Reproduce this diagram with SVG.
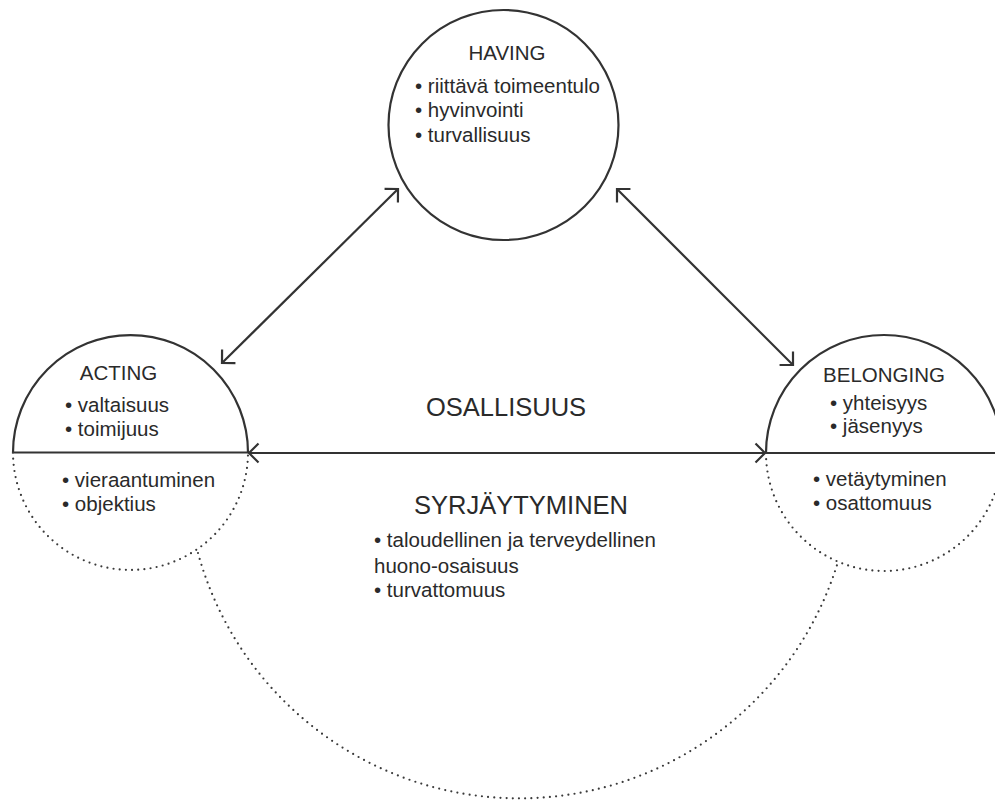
<svg xmlns="http://www.w3.org/2000/svg" width="995" height="801" viewBox="0 0 995 801">
<defs>
<style>
.t{font-family:"Liberation Sans",Arial,sans-serif;font-size:20.5px;fill:#2a2a2a}
.big{font-size:25.5px}
.solid{fill:none;stroke:#333;stroke-width:2.2}
.dot{fill:none;stroke:#3a3a3a;stroke-width:2.2;stroke-linecap:round;stroke-dasharray:0 6.2}
.arr{fill:none;stroke:#333;stroke-width:2.2;marker-start:url(#ah);marker-end:url(#ah)}
</style>
<marker id="ah" markerUnits="userSpaceOnUse" markerWidth="26" markerHeight="26" viewBox="-13 -13 26 26" refX="0" refY="0" orient="auto-start-reverse">
<path d="M-9.5 -9.5 L0 0 L-9.5 9.5" fill="none" stroke="#333" stroke-width="2.2"/>
</marker>
</defs>
<rect width="995" height="801" fill="#fff"/>

<g id="having">
<circle class="solid" cx="503.5" cy="125" r="115"/>
<text class="t" x="507" y="60" text-anchor="middle">HAVING</text>
<text class="t" x="415" y="93">• riittävä toimeentulo</text>
<text class="t" x="415" y="117">• hyvinvointi</text>
<text class="t" x="415" y="142">• turvallisuus</text>
</g>

<g id="acting">
<path class="solid" d="M13 452.5 A117.5 117.5 0 0 1 248 452.5 Z"/>
<path class="dot" d="M13 452.5 A117.5 117.5 0 0 0 248 452.5"/>
<text class="t" x="118.5" y="380" text-anchor="middle">ACTING</text>
<text class="t" x="65" y="412">• valtaisuus</text>
<text class="t" x="65" y="436">• toimijuus</text>
<text class="t" x="62" y="487">• vieraantuminen</text>
<text class="t" x="62" y="511">• objektius</text>
</g>

<g id="belonging">
<path class="solid" d="M766 453 A118 118 0 0 1 1002 453 Z"/>
<path class="dot" d="M766 453 A118 118 0 0 0 1002 453"/>
<text class="t" x="884" y="382" text-anchor="middle">BELONGING</text>
<text class="t" x="830" y="410">• yhteisyys</text>
<text class="t" x="830" y="433">• jäsenyys</text>
<text class="t" x="813" y="486">• vetäytyminen</text>
<text class="t" x="813" y="510">• osattomuus</text>
</g>

<g id="osallisuus">
<text class="t big" x="506" y="416" text-anchor="middle">OSALLISUUS</text>
</g>

<g id="syrjaytyminen">
<path class="dot" d="M198 553 A333 333 0 0 0 837 565"/>
<text class="t big" x="521" y="514" text-anchor="middle">SYRJÄYTYMINEN</text>
<text class="t" x="374" y="547">• taloudellinen ja terveydellinen</text>
<text class="t" x="374" y="573">huono-osaisuus</text>
<text class="t" x="374" y="597">• turvattomuus</text>
</g>

<g id="connectors">
<line class="arr" x1="222" y1="363" x2="398" y2="189"/>
<line class="arr" x1="617" y1="189" x2="793" y2="365"/>
<line class="arr" x1="249" y1="453" x2="765" y2="453"/>
</g>
</svg>
